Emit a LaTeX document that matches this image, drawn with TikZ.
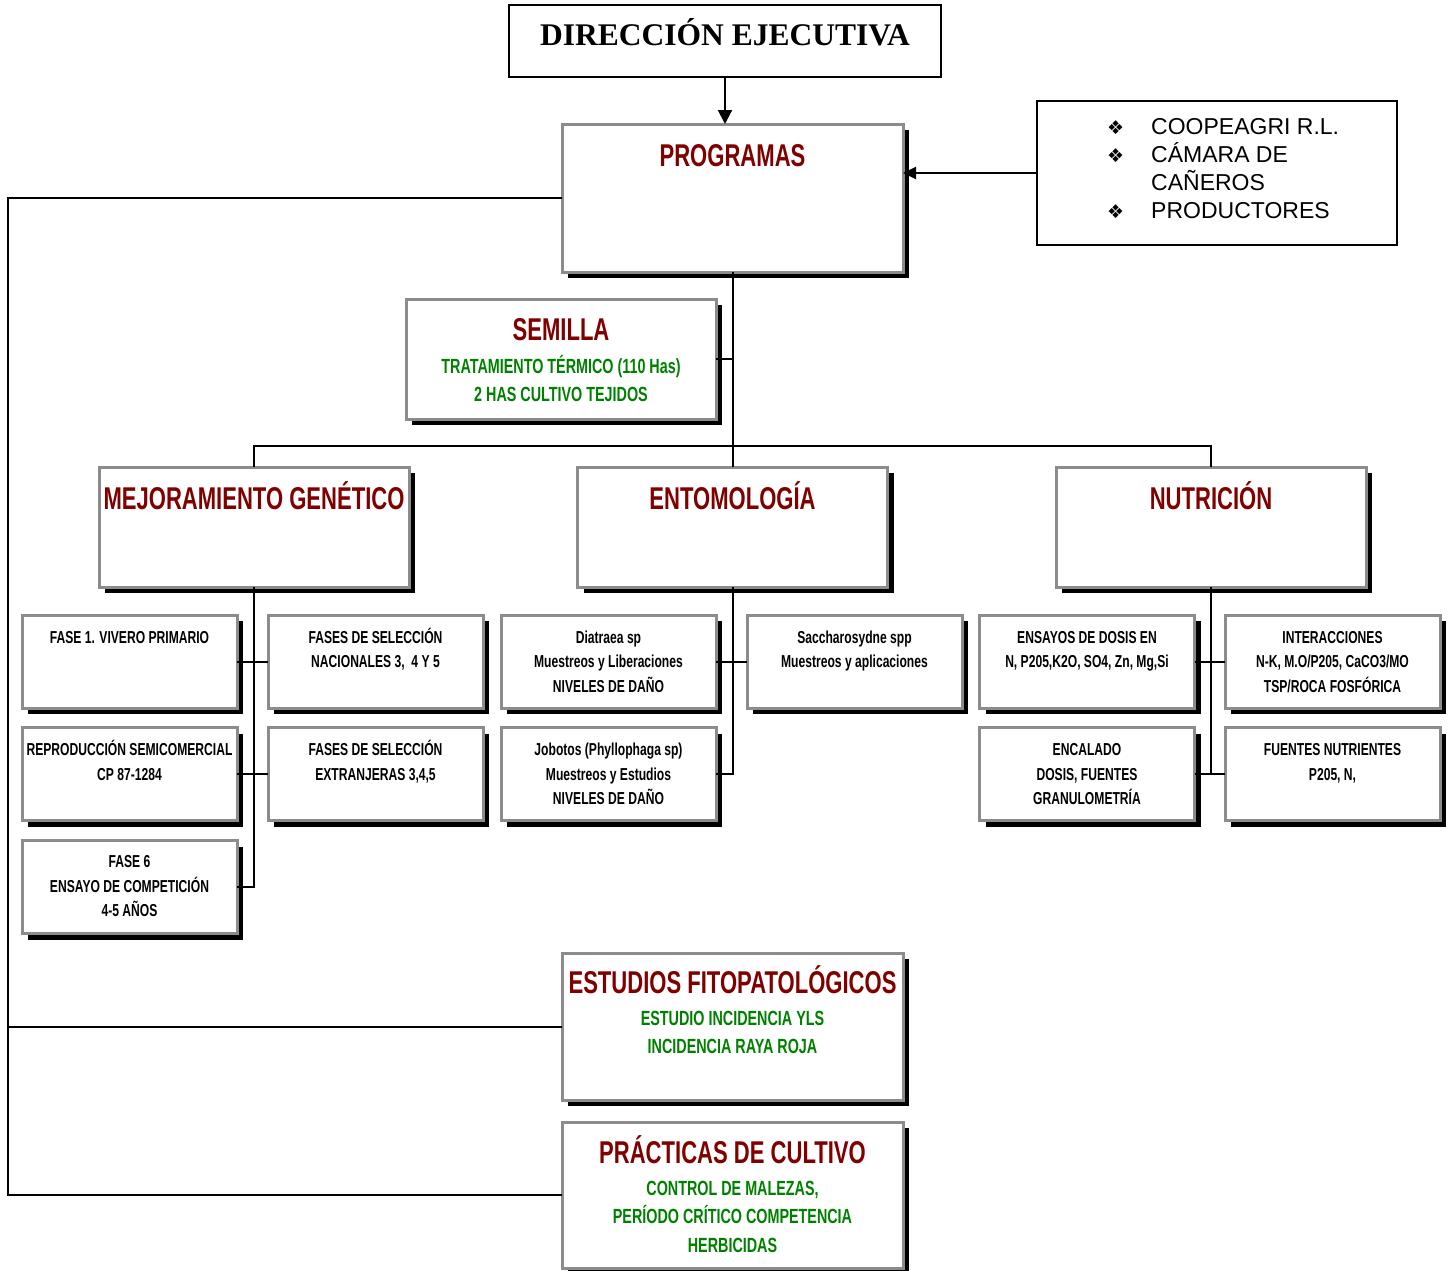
\documentclass[tikz,border=0pt]{standalone}
\usepackage{fontspec}
\setmainfont{Liberation Sans}
\newfontfamily\narrowfont[FakeStretch=0.7]{Liberation Sans}
\newfontfamily\timesfont{Liberation Serif}
\newfontfamily\dingfont{DejaVu Sans}
\usetikzlibrary{shadows,arrows.meta}
\definecolor{tred}{RGB}{128,0,0}
\definecolor{tgreen}{RGB}{0,128,0}
\definecolor{bgray}{RGB}{140,140,140}
\newcommand{\rows}[1]{\begin{tabular}[t]{@{}c@{}}#1\end{tabular}}
\newcommand{\bul}{\makebox[44pt][l]{\dingfont\fontsize{19}{19}\selectfont ❖}}
\begin{document}
\begin{tikzpicture}[x=1pt,y=-1pt,
	link/.style={line width=2pt},
	card/.style={draw=bgray,line width=3pt,fill=white,inner sep=0pt,outer sep=0pt,drop shadow={opacity=1,fill=black,shadow xshift=6pt,shadow yshift=-6pt}},
	plainbox/.style={draw,line width=2pt,fill=white,inner sep=0pt,outer sep=0pt},
	ttl/.style={anchor=base,text=tred,font=\narrowfont\bfseries\fontsize{31.5}{34}\selectfont},
	grn/.style={anchor=base,text=tgreen,font=\narrowfont\bfseries\fontsize{20.5}{28.5}\selectfont},
	itm/.style={anchor=base,font=\narrowfont\bfseries\fontsize{17.3}{24.5}\selectfont},
	big/.style={card,minimum width=341,minimum height=147},
	mid/.style={card,minimum width=310,minimum height=120},
	small/.style={card,minimum width=215,minimum height=93}]
	\useasboundingbox (0,0) rectangle (1450,1270);
	\node[plainbox,minimum width=432,minimum height=72] (dir) at (725,41) {};
	\node[plainbox,minimum width=360,minimum height=144] (ext) at (1217,173) {};
	\node[big,minimum height=148] (prog) at (732.5,198) {};
	\node[mid] (sem) at (561,359) {};
	\node[mid] (mej) at (254,527) {};
	\node[mid] (ent) at (732.5,527) {};
	\node[mid] (nut) at (1211,527) {};
	\node[small] (f1) at (129.5,661.5) {};
	\node[small] (fnac) at (375.5,661.5) {};
	\node[small] (repr) at (129.5,774) {};
	\node[small] (fext) at (375.5,774) {};
	\node[small] (f6) at (129.5,887) {};
	\node[small] (dia) at (608.5,661.5) {};
	\node[small] (sac) at (854.5,661.5) {};
	\node[small] (job) at (608.5,774) {};
	\node[small] (ens) at (1087,661.5) {};
	\node[small] (inter) at (1332.5,661.5) {};
	\node[small] (enc) at (1087,774) {};
	\node[small] (fue) at (1332.5,774) {};
	\node[big] (fito) at (732.5,1026.5) {};
	\node[big,minimum height=146] (prac) at (732.5,1195) {};

	\node[anchor=base,font=\timesfont\bfseries\fontsize{31.5}{34}\selectfont] (dirt) at (725,45) {DIRECCIÓN EJECUTIVA};
	\node[anchor=base west,inner sep=0pt,font=\fontsize{23}{27.8}\selectfont] (extt) at (1107,134)
		{\begin{tabular}[t]{@{}l@{}l@{}}\bul&COOPEAGRI R.L.\\ \bul&CÁMARA DE\\ &CAÑEROS\\ \bul&PRODUCTORES\end{tabular}};
	\node[ttl] (progt) at ([yshift=-42pt]prog.north) {PROGRAMAS};
	\node[ttl] (semt) at ([yshift=-41pt]sem.north) {SEMILLA};
	\node[grn] (semn) at ([yshift=-74pt]sem.north) {\rows{TRATAMIENTO TÉRMICO (110 Has)\\2 HAS CULTIVO TEJIDOS}};
	\node[ttl] (mejt) at ([yshift=-42pt]mej.north) {MEJORAMIENTO GENÉTICO};
	\node[ttl] (entt) at ([yshift=-42pt]ent.north) {ENTOMOLOGÍA};
	\node[ttl] (nutt) at ([yshift=-42pt]nut.north) {NUTRICIÓN};
	\node[itm] (f1t) at ([yshift=-28pt]f1.north) {\rows{FASE 1. VIVERO PRIMARIO}};
	\node[itm] (fnact) at ([yshift=-28pt]fnac.north) {\rows{FASES DE SELECCIÓN\\NACIONALES 3,\ \ 4 Y 5}};
	\node[itm] (reprt) at ([yshift=-28pt]repr.north) {\rows{REPRODUCCIÓN SEMICOMERCIAL\\CP 87-1284}};
	\node[itm] (fextt) at ([yshift=-28pt]fext.north) {\rows{FASES DE SELECCIÓN\\EXTRANJERAS 3,4,5}};
	\node[itm] (f6t) at ([yshift=-27pt]f6.north) {\rows{FASE 6\\ENSAYO DE COMPETICIÓN\\4-5 AÑOS}};
	\node[itm] (diat) at ([yshift=-28pt]dia.north) {\rows{Diatraea sp\\Muestreos y Liberaciones\\NIVELES DE DAÑO}};
	\node[itm] (sact) at ([yshift=-28pt]sac.north) {\rows{Saccharosydne spp\\Muestreos y aplicaciones}};
	\node[itm] (jobt) at ([yshift=-28pt]job.north) {\rows{Jobotos (Phyllophaga sp)\\Muestreos y Estudios\\NIVELES DE DAÑO}};
	\node[itm] (enst) at ([yshift=-28pt]ens.north) {\rows{ENSAYOS DE DOSIS EN\\N, P205,K2O, SO4, Zn, Mg,Si}};
	\node[itm] (intert) at ([yshift=-28pt]inter.north) {\rows{INTERACCIONES\\N-K, M.O/P205, CaCO3/MO\\TSP/ROCA FOSFÓRICA}};
	\node[itm] (enct) at ([yshift=-28pt]enc.north) {\rows{ENCALADO\\DOSIS, FUENTES\\GRANULOMETRÍA}};
	\node[itm] (fuet) at ([yshift=-28pt]fue.north) {\rows{FUENTES NUTRIENTES\\P205, N,}};
	\node[ttl] (fitot) at ([yshift=-40pt]fito.north) {ESTUDIOS FITOPATOLÓGICOS};
	\node[grn] (fiton) at ([yshift=-72pt]fito.north) {\rows{ESTUDIO INCIDENCIA YLS\\INCIDENCIA RAYA ROJA}};
	\node[ttl] (pract) at ([yshift=-41pt]prac.north) {PRÁCTICAS DE CULTIVO};
	\node[grn] (pracn) at ([yshift=-73pt]prac.north) {\rows{CONTROL DE MALEZAS,\\PERÍODO CRÍTICO COMPETENCIA\\HERBICIDAS}};

	\draw[link,-{Triangle[length=14pt,width=14pt]}] (dir.south) -- (dir.south |- prog.north);
	\draw[link,-{Triangle[length=13pt,width=12pt]}] (ext.west) -- (ext.west -| prog.east);
	\coordinate (lft) at (8,198);
	\coordinate (bar) at (732.5,446);
	\draw[link] (prog.west) -- (lft) |- (prac.west);
	\draw[link] (fito.west) -- (lft |- fito.west);
	\draw[link] (prog.south) -- (ent.north);
	\draw[link] (sem.east) -- (sem.east -| prog.south);
	\draw[link] (mej.north) |- (bar) -| (nut.north);
	\draw[link] (mej.south) -- (mej.south |- f6.east) -- (f6.east);
	\draw[link] (f1.east) -- (fnac.west);
	\draw[link] (repr.east) -- (fext.west);
	\draw[link] (ent.south) -- (ent.south |- job.east) -- (job.east);
	\draw[link] (dia.east) -- (sac.west);
	\draw[link] (nut.south) -- (nut.south |- enc.east);
	\draw[link] (ens.east) -- (inter.west);
	\draw[link] (enc.east) -- (fue.west);
\end{tikzpicture}
\end{document}
